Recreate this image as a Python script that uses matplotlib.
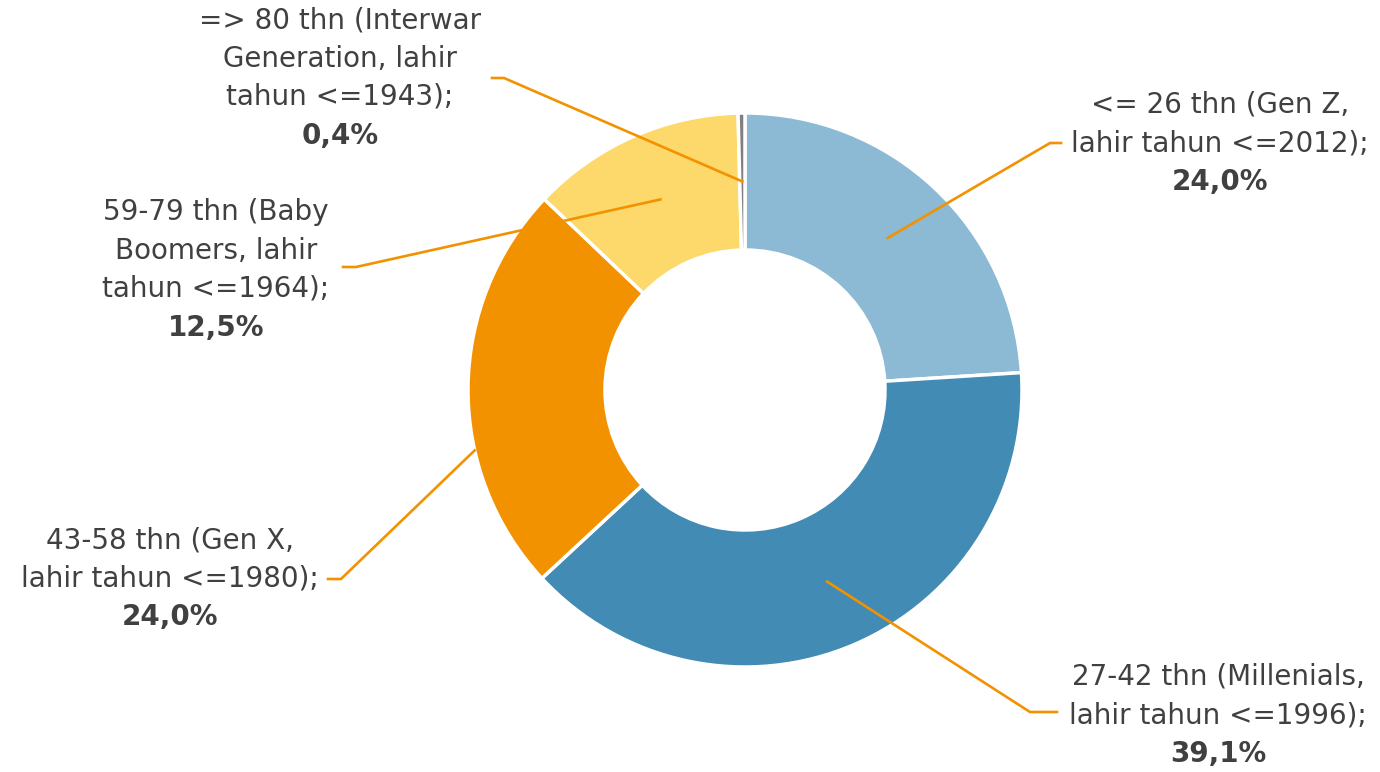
import matplotlib
matplotlib.use("Agg")
import matplotlib.pyplot as plt
import numpy as np

# data
categories = [
    "<= 26 thn (Gen Z,\nlahir tahun <=2012);",
    "27-42 thn (Millenials,\nlahir tahun <=1996);",
    "43-58 thn (Gen X,\nlahir tahun <=1980);",
    "59-79 thn (Baby\nBoomers, lahir\ntahun <=1964);",
    "=> 80 thn (Interwar\nGeneration, lahir\ntahun <=1943);",
]
shares = [24.0, 39.1, 24.0, 12.5, 0.4]

# style
COLORS = ["#8CB9D4", "#428BB4", "#F39200", "#FDD86B", "#7F7F7F"]
LEADER = "#F39200"
TEXT = "#404040"
W, H = 1380, 772
CX, CY, R_OUT, R_IN = 745, 390, 277, 140

# label layout (pixel coords, y from top): text centre x, first line y,
# leader start radius (fraction of outer), elbow point, tail end x
layout = [
    dict(x=1220, y=105, r=None, elbow=(1050, 143), tail=1061),
    dict(x=1218, y=677, r=None, elbow=(1030, 712), tail=1057),
    dict(x=170, y=540, r=1.0, ang=192.6, elbow=(341, 579), tail=328),
    dict(x=216, y=212, r=None, elbow=(356, 267), tail=343),
    dict(x=340, y=20, r=None, elbow=(504, 78), tail=492),
]
LINE_H = 38.5

fig = plt.figure(figsize=(W / 100, H / 100), dpi=100, facecolor="white")
ax = fig.add_axes([0, 0, 1, 1])


def fy(y):
    return H - y


wedges, _ = ax.pie(shares, colors=COLORS, startangle=90, counterclock=False,
                   center=(CX, fy(CY)), radius=R_OUT,
                   wedgeprops=dict(width=R_OUT - R_IN, edgecolor="white",
                                   linewidth=2.5))
ax.set_xlim(0, W)
ax.set_ylim(0, H)
ax.set_aspect("equal")
ax.axis("off")

font = ["DejaVu Sans"]
for w, cat, val, lay in zip(wedges, categories, shares, layout):
    mid = np.deg2rad((w.theta1 + w.theta2) / 2)
    if lay["r"] is None:
        rr = (R_OUT + R_IN) / 2
    else:
        rr = R_OUT * lay["r"]
        mid = np.deg2rad(lay["ang"])
    sx = CX + rr * np.cos(mid)
    sy = fy(CY) + rr * np.sin(mid)
    ex, ey = lay["elbow"]
    ax.plot([sx, ex, lay["tail"]], [sy, fy(ey), fy(ey)], color=LEADER,
            lw=1.9, solid_joinstyle="miter", zorder=3)
    lines = cat.split("\n")
    for i, ln in enumerate(lines):
        ax.text(lay["x"], fy(lay["y"] + i * LINE_H), ln, ha="center",
                va="center", fontsize=20, color=TEXT, family=font)
    pct = f"{val:.1f}%".replace(".", ",")
    ax.text(lay["x"], fy(lay["y"] + len(lines) * LINE_H), pct, ha="center",
            va="center", fontsize=20, color=TEXT, fontweight="bold",
            family=font)

fig.savefig("out.png", dpi=100, facecolor="white")
